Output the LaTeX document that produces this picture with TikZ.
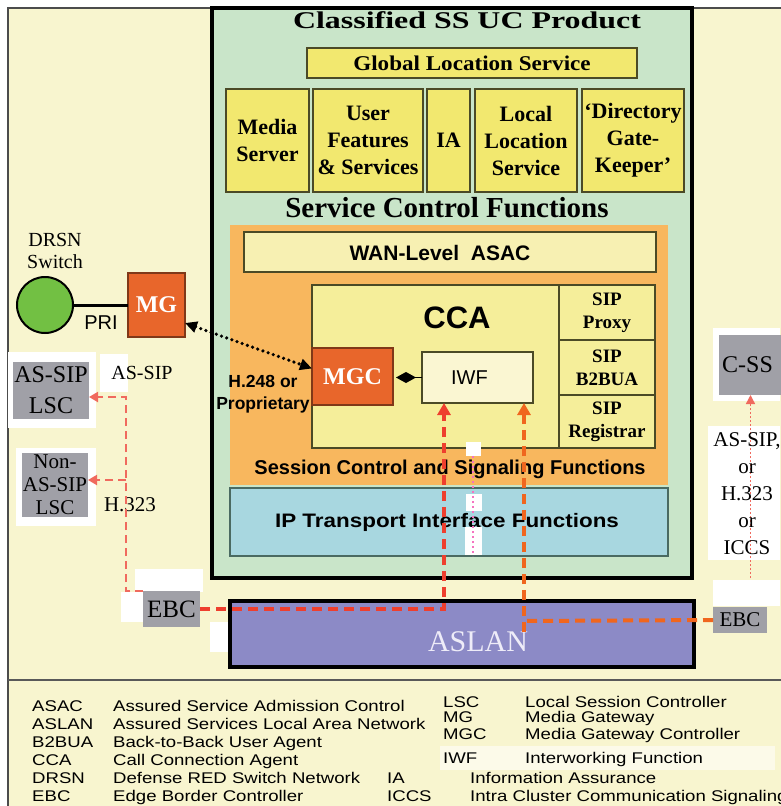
\documentclass[tikz,border=0pt]{standalone}
\usepackage{fontspec}
\setmainfont{Liberation Serif}
\setsansfont{Liberation Sans}
\newfontfamily\legf[FakeStretch=1.2]{Liberation Sans}
\newfontfamily\titf[FakeStretch=1.33]{Liberation Serif}
\newfontfamily\wserif[FakeStretch=1.1]{Liberation Serif}
\newfontfamily\wsans[FakeStretch=1.15]{Liberation Sans}
\usetikzlibrary{arrows.meta,fit}
\newcommand\fs[2]{\fontsize{#1}{#2}\selectfont}
\definecolor{bgy}{HTML}{F8F5CF}
\definecolor{mint}{HTML}{C9E5C9}
\definecolor{ybox}{HTML}{F2E86F}
\definecolor{yedge}{HTML}{4B4A26}
\definecolor{orng}{HTML}{F8B75E}
\definecolor{lyel}{HTML}{F7F0B2}
\definecolor{ccay}{HTML}{F5EE9A}
\definecolor{iwfc}{HTML}{FAF6D2}
\definecolor{ipb}{HTML}{A8D7E0}
\definecolor{ipedge}{HTML}{4A6A62}
\definecolor{mgo}{HTML}{E8662B}
\definecolor{grayb}{HTML}{A0A0A7}
\definecolor{aslanc}{HTML}{8C8AC6}
\definecolor{aslant}{HTML}{EEECF8}
\definecolor{circg}{HTML}{72C043}
\definecolor{dred}{HTML}{EE3F2E}
\definecolor{dorg}{HTML}{F0661E}
\definecolor{lred}{HTML}{F06A5E}
\begin{document}
\begin{tikzpicture}[x=1pt,y=-1pt,
  bx/.style={inner sep=0pt, outer sep=0pt},
  ybx/.style={bx, fill=ybox, draw=yedge, line width=2pt},
  gbx/.style={bx, fill=grayb},
  obx/.style={bx, fill=mgo, draw=mgo!55!black, line width=1.5pt},
  sipbx/.style={bx, fill=ccay, draw=yedge, line width=1.5pt},
  txt/.style={inner sep=0pt, align=center},
  ytxt/.style={txt, font=\bfseries\fs{22}{27}},
  siptxt/.style={txt, font=\bfseries\fs{19}{23}},
  otxt/.style={txt, text=white, font=\bfseries\fs{24}{24}},
  lsc/.style={lred, line width=2pt, dash pattern=on 8pt off 5pt},
  fat/.style={line width=4pt, dash pattern=on 10pt off 6pt},
  arrowhd/.style={-{Triangle[length=9pt,width=10pt]}},
  bigarrow/.style={-{Triangle[length=12pt,width=13pt]}},
  leg/.style={anchor=base west, inner sep=0pt, font=\legf\fs{15.5}{18}}
]
\fill[white] (0,0) rectangle (780,806);
\useasboundingbox (0,0) rectangle (780,806);
% frame
\fill[bgy] (8,8) rectangle (790,816);
\draw[line width=1.5pt, black!70] (790,8) -- (8,8) -- (8,816);
\draw[line width=2pt, black!65] (8,680) -- (790,680);

% white patches
\fill[white] (8,352) rectangle (96,428);
\fill[white] (100,354) rectangle (128,392);
\fill[white] (16,448) rectangle (96,526);
\fill[white] (135,569) rectangle (203,592);
\fill[white] (121,592) rectangle (143,622);
\fill[white] (210,622) rectangle (229,652);
\fill[white] (713,328) rectangle (780,401);
\fill[white] (708,426) rectangle (780,560);
\fill[white] (713,580) rectangle (780,606);
\fill[white!55!bgy] (440,746) rectangle (775,770);

% main product box
\node[bx, fit={(212,8)(692,578)}, fill=mint, draw=black, line width=3.5pt] (ssuc) {};
\node[txt, font=\titf\bfseries\fs{24}{24}] (title) at (467,20) {Classified SS UC Product};
\node[ybx, fit={(307,48)(637,78)}] (gls) {};
\node[txt, font=\wserif\bfseries\fs{21}{21}] (glsT) at (gls.center) {Global Location Service};
\node[ybx, fit={(226,89)(309,192)}] (ms) {};
\node[ytxt] (msT) at (ms.center) {Media\\Server};
\node[ybx, fit={(313,89)(423,192)}] (uf) {};
\node[ytxt] (ufT) at (uf.center) {User\\Features\\\& Services};
\node[ybx, fit={(427,89)(470,192)}] (ia) {};
\node[ytxt] (iaT) at (ia.center) {IA};
\node[ybx, fit={(475,89)(577,192)}] (lls) {};
\node[ytxt] (llsT) at (lls.center) {Local\\Location\\Service};
\node[ybx, fit={(582,89)(684,192)}] (dgk) {};
\node[ytxt] (dgkT) at (dgk.center) {`Directory\\Gate-\\Keeper'};
\node[txt, font=\bfseries\fs{29}{29}] (scf) at (447,208) {Service Control Functions};

% session control
\node[bx, fit={(230,225)(668,485)}, fill=orng] (scsf) {};
\node[bx, fit={(244,232)(656,272)}, fill=lyel, draw=yedge, line width=2pt] (wan) {};
\node[txt, font=\sffamily\bfseries\fs{21}{21}] (want) at (440,253) {WAN-Level\ \ ASAC};
\node[bx, fit={(312,285)(655,448)}, fill=ccay, draw=yedge, line width=1.5pt] (cca) {};
\node[txt, font=\sffamily\bfseries\fs{31}{31}] (ccat) at (457,318) {CCA};
\node[sipbx, fit={(559,285)(655,340)}] (sp) {};
\node[siptxt] (spT) at (sp.center) {SIP\\Proxy};
\node[sipbx, fit={(559,340)(655,395)}] (sb) {};
\node[siptxt] (sbT) at (sb.center) {SIP\\B2BUA};
\node[sipbx, fit={(559,395)(655,448)}] (sr) {};
\node[siptxt] (srT) at (sr.center) {SIP\\Registrar};
\node[obx, fit={(312,348)(393,405)}] (mgc) {};
\node[otxt] (mgcT) at (mgc.center) {MGC};
\node[bx, fit={(422,352)(533,403)}, fill=iwfc, draw=yedge, line width=1.5pt] (iwf) {};
\node[txt, font=\sffamily\fs{20}{20}] (iwfT) at ([xshift=-8pt]iwf.center) {IWF};
\draw[line width=1.5pt, shorten >=3pt, -{Diamond[length=20pt,width=11pt]}] (iwf.west) -- (iwf.west -| mgc.east);
\node[txt, font=\sffamily\bfseries\fs{17.5}{22}] (h248) at (263,394) {H.248 or\\Proprietary};
\node[txt, font=\sffamily\bfseries\fs{20}{20}] (scsft) at (450,469) {Session Control and Signaling Functions};

% IP transport
\node[bx, fit={(230,488)(668,556)}, fill=ipb, draw=ipedge, line width=1.5pt] (ip) {};
\node[txt, font=\wsans\bfseries\fs{19.5}{19.5}] (ipt) at (447,522) {IP Transport Interface Functions};

% artifacts
\fill[white] (466,442) rectangle (481,456);
\fill[white] (466,494) rectangle (482,511);
\fill[white] (465,527) rectangle (482,555);
\draw[magenta!55, line width=1.5pt, dash pattern=on 2pt off 3pt] (473,456) -- (473,556);

% ASLAN
\node[bx, fit={(230,601)(694,667)}, fill=aslanc, draw=black, line width=4.5pt] (aslan) {};
\node[txt, font=\fs{30}{30}, text=aslant] (aslant) at (478,642) {ASLAN};

% left side
\node[txt, font=\fs{20}{22}] (drsnt) at (55,251) {DRSN\\Switch};
\node[circle, fill=circg, draw=black, line width=2pt, minimum size=56pt, inner sep=0pt] (drsn) at (45,305) {};
\node[obx, fit={(128,273)(185,337)}] (mg) {};
\node[otxt] (mgT) at (mg.center) {MG};
\draw[line width=3pt] (drsn.east) -- (mg.west);
\node[txt, font=\sffamily\fs{20}{20}] (pri) at (101,323) {PRI};
\draw[line width=3.6pt, dash pattern=on 0pt off 5.5pt, line cap=round,
  {Triangle[length=12pt,width=11pt]}-{Triangle[length=12pt,width=11pt]}]
  ([yshift=-18pt]mg.east) -- ([yshift=8pt]mgc.west);

\node[gbx, fit={(13,362)(89,419)}] (lsca) {};
\node[txt, font=\fs{24}{31}] (lscaT) at (lsca.center) {AS-SIP\\LSC};
\node[txt, font=\fs{20}{20}] (assip) at (142,373) {AS-SIP};
\node[gbx, fit={(22,453)(88,517)}] (lscn) {};
\node[txt, font=\fs{21}{23}] (lscnT) at (lscn.center) {Non-\\AS-SIP\\LSC};
\node[txt, font=\fs{21}{21}] (h323) at (130,505) {H.323};
\node[gbx, fit={(143,591)(200,627)}] (ebcl) {};
\node[txt, font=\fs{25}{25}] (ebclT) at (ebcl.center) {EBC};

% right side
\node[gbx, fit={(719,335)(782,395)}] (css) {};
\node[txt, font=\fs{24}{24}] (cssT) at ([xshift=-3pt]css.center) {C-SS};
\coordinate (cssb) at (css.south |- 0,578);
\draw[lred, line width=1.3pt, dash pattern=on 2pt off 2pt, -{Triangle[length=9pt,width=9pt]}] (cssb) -- (css.south);
\node[txt, font=\fs{21}{27}] (cssl) at (747,494) {AS-SIP,\\or\\H.323\\or\\ICCS};
\node[gbx, fit={(713,607)(767,633)}] (ebcr) {};
\node[txt, font=\fs{21}{21}] (ebcrT) at (ebcr.center) {EBC};

% connectors
\coordinate (ja) at (126,397);
\coordinate (jb) at (126,480);
\draw[lsc, arrowhd] (ebcl.north west) -| (ja) -- (ja -| lsca.east);
\draw[lsc, arrowhd] (jb) -- (jb -| lscn.east);
\coordinate (jr) at (444,609);
\draw[dred, fat, bigarrow] (ebcl.east) -- (jr) -- (jr |- iwf.south);
\coordinate (jo) at (524,621);
\coordinate (jo2) at (524,632);
\draw[dorg, fat] (ebcr.west) -- (jo);
\draw[dorg, fat, bigarrow] (jo2) -- (jo2 |- iwf.south);

% legend
\node[leg] (k1) at (32,711) {ASAC};  \node[leg] (d1) at (113,711) {Assured Service Admission Control};
\node[leg] (k2) at (32,729) {ASLAN}; \node[leg] (d2) at (113,729) {Assured Services Local Area Network};
\node[leg] (k3) at (32,747) {B2BUA}; \node[leg] (d3) at (113,747) {Back-to-Back User Agent};
\node[leg] (k4) at (32,765) {CCA};   \node[leg] (d4) at (113,765) {Call Connection Agent};
\node[leg] (k5) at (32,783) {DRSN};  \node[leg] (d5) at (113,783) {Defense RED Switch Network};
\node[leg] (k6) at (32,801) {EBC};   \node[leg] (d6) at (113,801) {Edge Border Controller};
\node[leg] (k7) at (443,707) {LSC};  \node[leg] (d7) at (525,707) {Local Session Controller};
\node[leg] (k8) at (443,722) {MG};   \node[leg] (d8) at (525,722) {Media Gateway};
\node[leg] (k9) at (443,739) {MGC};  \node[leg] (d9) at (525,739) {Media Gateway Controller};
\node[leg] (k10) at (443,763) {IWF}; \node[leg] (d10) at (525,763) {Interworking Function};
\node[leg] (k11) at (387,783) {IA};  \node[leg] (d11) at (470,783) {Information Assurance};
\node[leg] (k12) at (387,801) {ICCS}; \node[leg] (d12) at (470,801) {Intra Cluster Communication Signaling};
\end{tikzpicture}
\end{document}
